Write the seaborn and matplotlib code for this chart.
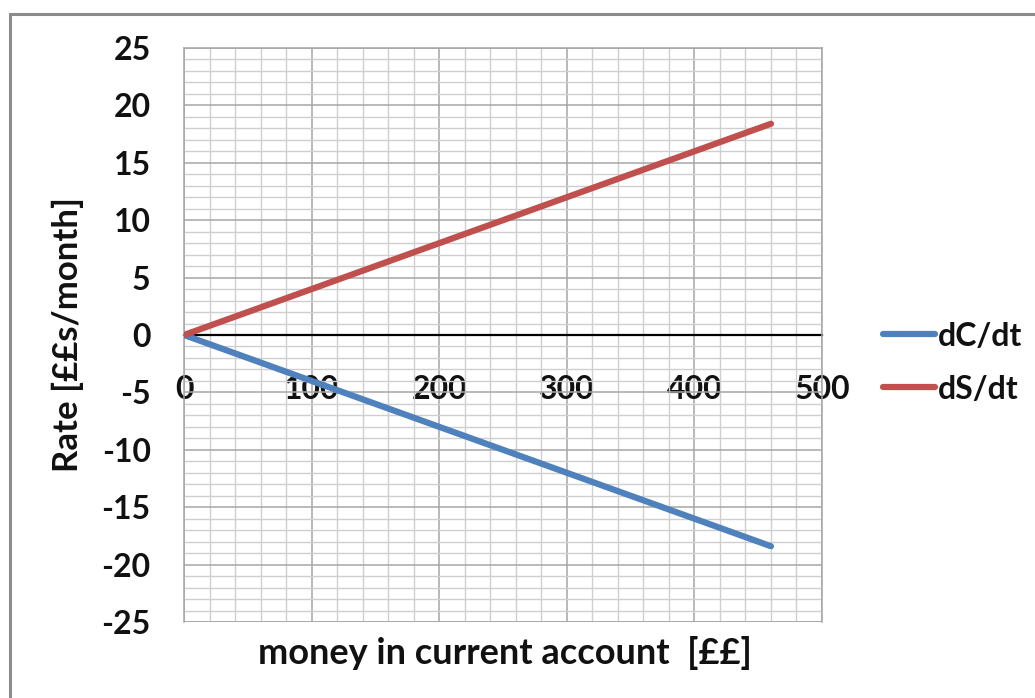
import matplotlib
matplotlib.use("Agg")
import matplotlib.pyplot as plt
import matplotlib.patches as mpatches
from matplotlib.ticker import MultipleLocator
import seaborn as sns
import pandas as pd

# Balance in the current account and the two rates of change
money = [0, 100, 200, 300, 400, 460]
dC_dt = [0, -4, -8, -12, -16, -18.4]
dS_dt = [0, 4, 8, 12, 16, 18.4]
series_names = ["dC/dt", "dS/dt"]
series_colors = ["#4F81BD", "#C0504D"]
x_ticks = [0, 100, 200, 300, 400, 500]
y_ticks = [-25, -20, -15, -10, -5, 0, 5, 10, 15, 20, 25]

df = pd.concat([
    pd.DataFrame({"money": money, "rate": dC_dt, "series": series_names[0]}),
    pd.DataFrame({"money": money, "rate": dS_dt, "series": series_names[1]}),
])

sns.set_theme(style="white")
plt.rcParams["font.family"] = ["Lato", "DejaVu Sans"]

TICK_FS = 23
LABEL_FS = 25

fig = plt.figure(figsize=(10.35, 6.98), dpi=100)
ax = fig.add_axes([184 / 1035, 1 - 622 / 698, 638 / 1035, 574 / 698])

# Outer chart frame (left and top edges visible)
fig.patches.append(mpatches.Rectangle((10 / 1035, -0.2), 1.2, 1.2 - 14 / 698,
                                      transform=fig.transFigure, fill=False,
                                      edgecolor="#8c8c8c", linewidth=2.2, zorder=0))

ax.set_xlim(0, 500)
ax.set_ylim(-25, 25)
ax.xaxis.set_major_locator(MultipleLocator(100))
ax.xaxis.set_minor_locator(MultipleLocator(20))
ax.yaxis.set_major_locator(MultipleLocator(5))
ax.yaxis.set_minor_locator(MultipleLocator(1))
ax.grid(which="major", color="#a6a6a6", linewidth=1.1)
ax.grid(which="minor", color="#cfcfcf", linewidth=1.0)
ax.set_axisbelow(True)

for side in ["left", "top", "right"]:
    ax.spines[side].set_color("#a6a6a6")
    ax.spines[side].set_linewidth(1.1)
ax.spines["bottom"].set_position(("data", 0))
ax.spines["bottom"].set_color("black")
ax.spines["bottom"].set_linewidth(1.6)
ax.spines["bottom"].set_zorder(1.5)
# bottom edge of the plot area
ax.axhline(-25, color="#a6a6a6", linewidth=1.1)

sns.lineplot(data=df, x="money", y="rate", hue="series", palette=series_colors,
             linewidth=4.5, ax=ax, legend=True, zorder=3)
for ln in ax.get_lines():
    ln.set_solid_capstyle("round")

ax.set_xticks(x_ticks)
ax.set_yticks(y_ticks)
ax.set_xticklabels([str(v) for v in x_ticks])
ax.set_yticklabels([str(v) for v in y_ticks])
ax.tick_params(axis="x", which="both", length=0, pad=29, labelsize=TICK_FS)
ax.tick_params(axis="y", which="both", length=0, pad=24, labelsize=TICK_FS)
for lab in ax.get_xticklabels() + ax.get_yticklabels():
    lab.set_fontweight("bold")
    lab.set_color("#111111")

ax.set_xlabel("money in current account  [££]", fontsize=26, fontweight="bold", color="#111111")
ax.set_ylabel("Rate [££s/month]", fontsize=LABEL_FS, fontweight="bold", color="#111111")
ax.xaxis.set_label_coords(0.503, -0.025)
ax.yaxis.set_label_coords(-0.157, 0.5)

leg = ax.legend(loc="center left", bbox_to_anchor=(1.0956, 0.452), frameon=False,
                borderaxespad=0, borderpad=0,
                fontsize=TICK_FS, handlelength=1.63, handletextpad=0.1, labelspacing=0.75)
for t in leg.get_texts():
    t.set_fontweight("bold")
    t.set_color("#111111")
for h in leg.get_lines():
    h.set_linewidth(4.5)
    h.set_solid_capstyle("round")

fig.savefig("out.png", dpi=100)
